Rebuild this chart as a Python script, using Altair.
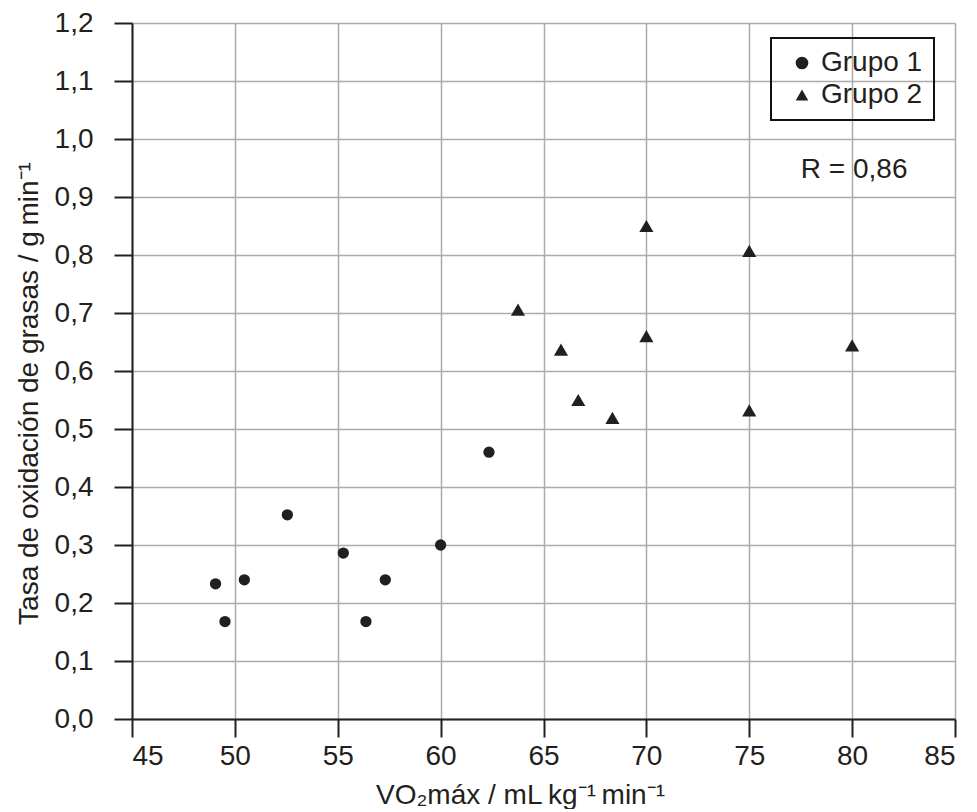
import altair as alt
import pandas as pd

# Data
g1_x = [49.06, 49.52, 50.46, 52.55, 55.27, 56.37, 57.31, 60.0, 62.35]
g1_y = [0.233, 0.168, 0.240, 0.352, 0.286, 0.168, 0.240, 0.300, 0.460]
g2_x = [70.0, 75.0, 63.76, 65.85, 70.0, 80.0, 66.69, 68.35, 75.0]
g2_y = [0.850, 0.807, 0.706, 0.637, 0.660, 0.644, 0.550, 0.519, 0.532]
groups = ["Grupo 1", "Grupo 2"]
x_ticks = [45, 50, 55, 60, 65, 70, 75, 80, 85]
y_ticks = [0.0, 0.1, 0.2, 0.3, 0.4, 0.5, 0.6, 0.7, 0.8, 0.9, 1.0, 1.1, 1.2]
annot_text = ["R = 0,86"]
annot_x = [80.1]
annot_y = [0.932]

FONT = "Liberation Sans"
INK = "#231f20"

df1 = pd.DataFrame({"x": g1_x, "y": g1_y, "grupo": [groups[0]] * len(g1_x)})
df2 = pd.DataFrame({"x": g2_x, "y": g2_y, "grupo": [groups[1]] * len(g2_x)})
ann = pd.DataFrame({"x": annot_x, "y": annot_y, "t": annot_text})

x_enc = alt.X(
    "x:Q",
    scale=alt.Scale(domain=[45, 85], nice=False, zero=False),
    axis=alt.Axis(
        values=x_ticks,
        title="VO₂máx / mL\u2009kg⁻¹\u2009min⁻¹",
        titleX=388, titleY=84, titleAlign="center", titleBaseline="alphabetic",
        labelBaseline="alphabetic", labelPadding=27,
    ),
)
y_enc = alt.Y(
    "y:Q",
    scale=alt.Scale(domain=[0, 1.2], nice=False, zero=True),
    axis=alt.Axis(
        values=y_ticks,
        labelExpr="replace(format(datum.value, '.1f'), '.', ',')",
        title="Tasa de oxidación de grasas / g\u2009min⁻¹",
        titleX=-95, titleY=370, titleAngle=270, titleAlign="center",
        titleBaseline="alphabetic", labelPadding=21,
    ),
)

shape_enc = alt.Shape(
    "grupo:N",
    scale=alt.Scale(domain=groups, range=["circle", "triangle-up"]),
    legend=alt.Legend(
        title=None, orient="none", legendX=639, legendY=15,
        strokeColor="#111111", padding=11, rowPadding=4,
        symbolOffset=6, labelOffset=5, symbolSize=160,
        symbolFillColor=INK, symbolStrokeColor=INK,
        labelFont=FONT, labelFontSize=28, labelColor=INK,
    ),
)

circles = alt.Chart(df1).mark_point(filled=True, opacity=1, color=INK, size=128).encode(
    x=x_enc, y=y_enc, shape=shape_enc
)
triangles = alt.Chart(df2).mark_point(filled=True, opacity=1, color=INK, size=200).encode(
    x=x_enc, y=y_enc, shape=shape_enc
)

text = alt.Chart(ann).mark_text(
    font=FONT, fontSize=28, color=INK, align="center", baseline="alphabetic"
).encode(x="x:Q", y="y:Q", text="t:N")

chart = (
    alt.layer(circles, triangles, text)
    .properties(
        width=823, height=696,
        autosize=alt.AutoSizeParams(type="none"),
        padding={"left": 124, "top": 15, "right": 10, "bottom": 90},
        background="white",
    )
    .configure_view(strokeWidth=0)
    .configure_axis(
        grid=True, gridColor="#ababab", gridWidth=1.5,
        domainColor=INK, domainWidth=2,
        tickColor=INK, tickWidth=2, tickSize=18,
        labelFont=FONT, labelFontSize=28, labelColor=INK,
        titleFont=FONT, titleFontSize=28, titleColor=INK, titleFontWeight="normal",
    )
    .configure_legend(strokeWidth=2)
)

chart.save("out.html", embed_options={"renderer": "svg", "actions": False})
